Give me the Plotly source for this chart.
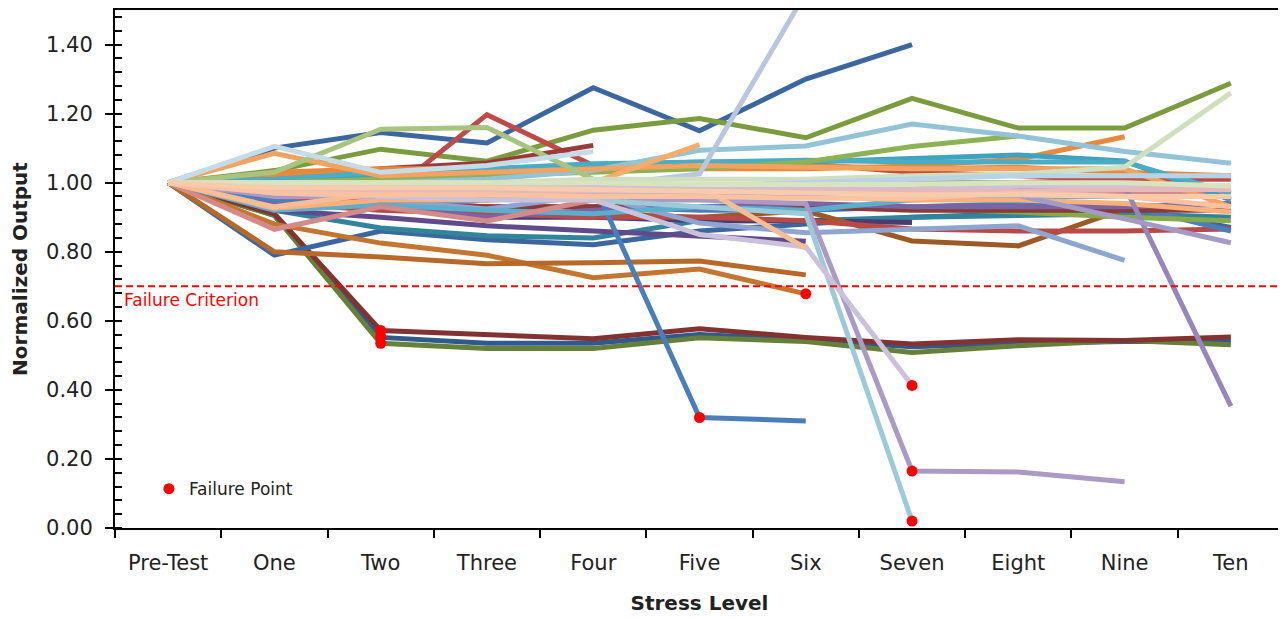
import plotly.graph_objects as go

stress_levels = ["Pre-Test", "One", "Two", "Three", "Four", "Five",
                 "Six", "Seven", "Eight", "Nine", "Ten"]

# ---- series values (normalized output per stress level; None = not tested) ----
blue_hi      = [1.00, 1.10, 1.145, 1.115, 1.275, 1.15, 1.30, 1.40, None, None, None]
blue_dip     = [1.00, 0.79, 0.86, 0.835, 0.82, 0.86, 0.88, 0.90, 0.91, 0.93, 0.87]
green_hi     = [1.00, 1.035, 1.097, 1.062, 1.152, 1.186, 1.13, 1.244, 1.158, 1.158, 1.288]
red_peak     = [1.00, 0.98, 0.95, 1.197, 1.05, 1.045, 1.054, 1.03, 1.02, 1.01, 1.01]
darkred_four = [1.00, 1.01, 1.04, 1.057, 1.108, None, None, None, None, None, None]
lgreen_peak  = [1.00, 1.03, 1.155, 1.16, 1.01, 0.99, 0.99, 1.00, 1.00, 0.99, 0.99]
paleblue_one = [1.00, 1.105, 1.03, 1.05, 1.09, None, None, None, None, None, None]
aqua_hi      = [1.00, 0.99, 1.00, 1.01, 1.035, 1.094, 1.106, 1.17, 1.135, 1.09, 1.056]
orange_hi    = [1.00, 1.085, 1.02, 1.03, 1.04, 1.05, 1.045, 1.04, 1.04, 1.04, 0.93]
blue_fail    = [1.00, 0.95, 0.93, 0.95, 1.00, 0.32, 0.31, None, None, None, None]
navy_low     = [1.00, 0.905, 0.552, 0.535, 0.535, 0.56, 0.545, 0.525, 0.535, 0.54, 0.54]
dkgreen_low  = [1.00, 0.905, 0.535, 0.52, 0.52, 0.551, 0.54, 0.508, 0.528, 0.543, 0.531]
maroon_low   = [1.00, 0.91, 0.572, 0.56, 0.548, 0.577, 0.552, 0.533, 0.545, 0.543, 0.553]
orange_fail  = [1.00, 0.88, 0.825, 0.79, 0.725, 0.75, 0.678, None, None, None, None]
orange_six   = [1.00, 0.80, 0.785, 0.765, 0.768, 0.773, 0.733, None, None, None, None]
teal_low     = [1.00, 0.92, 0.869, 0.846, 0.84, 0.89, 0.89, 0.90, 0.905, 0.91, 0.90]
purple_six   = [1.00, 0.92, 0.90, 0.875, 0.86, 0.846, 0.83, None, None, None, None]
purple_seven = [1.00, 0.95, 0.93, 0.90, 0.90, 0.89, 0.89, 0.885, None, None, None]
lav_fail     = [1.00, 0.96, 0.96, 0.955, 0.95, 0.95, 0.94, 0.165, 0.162, 0.134, None]
pale_lav_fail = [1.00, 0.97, 0.96, 0.95, 0.95, 0.85, 0.814, 0.413, None, None, None]
aqua_fail    = [1.00, 0.99, 0.98, 0.97, 0.95, 0.93, 0.91, 0.02, None, None, None]
lav_ten      = [1.00, 0.97, 0.97, 0.97, 0.96, 0.96, 0.96, 0.97, 0.98, 0.99, 0.353]
lav_ten2     = [1.00, 0.97, 0.96, 0.96, 0.97, 0.97, 0.97, 0.98, 0.963, 0.895, 0.826]
orange_nine  = [1.00, 1.02, 1.03, 1.04, 1.04, 1.04, 1.04, 1.048, 1.068, 1.133, None]
lorange_five = [1.00, 0.97, 0.98, 1.00, 1.00, 1.11, None, None, None, None, None]
steep_up     = [1.00, 0.98, 0.97, 0.98, 0.99, 1.025, 1.55, None, None, None, None]
peach_six    = [1.00, 0.93, 0.97, 0.99, 0.99, 0.99, 0.81, None, None, None, None]
brown_mid    = [1.00, 0.95, 0.93, 0.92, 0.91, 0.90, 0.918, 0.831, 0.817, 0.924, 0.94]
red_low      = [1.00, 0.94, 0.92, 0.91, 0.90, 0.90, 0.89, 0.866, 0.86, 0.86, 0.866]
blue_low     = [1.00, 0.95, 0.94, 0.93, 0.93, 0.92, 0.92, 0.93, 0.94, 0.935, 0.86]
green_low    = [1.00, 0.96, 0.94, 0.93, 0.93, 0.93, 0.93, 0.925, 0.915, 0.90, 0.89]
green_eight  = [1.00, 1.00, 1.01, 1.02, 1.03, 1.04, 1.06, 1.105, 1.135, None, None]
pgreen_ten   = [1.00, 1.00, 1.00, 1.00, 1.01, 1.01, 1.01, 1.02, 1.025, 1.045, 1.26]
teal_band    = [1.00, 1.00, 1.02, 1.03, 1.05, 1.06, 1.06, 1.07, 1.08, 1.063, 0.95]
teal_band2   = [1.00, 1.01, 1.03, 1.04, 1.055, 1.06, 1.065, 1.06, 1.06, 1.06, 0.97]
pink_dip     = [1.00, 0.865, 0.93, 0.889, 0.95, 0.96, 0.96, 0.97, 0.97, 0.97, 0.97]
sky_band     = [1.00, 0.92, 0.935, 0.92, 0.91, 0.93, 0.92, 0.95, 0.96, 0.96, 0.96]
periwinkle   = [1.00, 0.96, 0.95, 0.924, 0.964, 0.883, 0.855, 0.866, 0.875, 0.775, None]
orange_band  = [1.00, 1.03, 1.04, 1.04, 1.05, 1.05, 1.05, 1.04, 1.045, 1.03, 1.02]
purple_band  = [1.00, 0.94, 0.93, 0.90, 0.92, 0.93, 0.94, 0.93, 0.93, 0.93, 0.94]
red_band     = [1.00, 0.96, 0.95, 0.95, 0.96, 0.97, 0.98, 0.99, 1.00, 1.01, 1.02]
dkred_band   = [1.00, 0.95, 0.94, 0.93, 0.93, 0.93, 0.93, 0.92, 0.92, 0.92, 0.92]
blue_band    = [1.00, 0.97, 0.98, 0.99, 1.00, 0.99, 0.99, 1.00, 1.00, 0.99, 0.98]
lorange_band = [1.00, 0.926, 0.95, 0.95, 0.96, 0.96, 0.96, 0.95, 0.95, 0.94, 0.915]
pale_blue    = [1.00, 1.00, 0.99, 0.98, 0.98, 0.99, 1.00, 1.01, 1.02, 1.02, 1.02]
pale_lilac   = [1.00, 0.99, 0.99, 0.99, 0.99, 0.98, 0.98, 0.98, 0.99, 0.99, 0.98]
pale_pink    = [1.00, 0.98, 0.98, 0.975, 0.975, 0.975, 0.975, 0.975, 0.975, 0.98, 0.98]
pale_green   = [1.00, 1.00, 1.00, 1.00, 1.00, 0.995, 0.995, 0.995, 1.00, 1.00, 0.99]
peach_band   = [1.00, 0.985, 0.985, 0.985, 0.98, 0.975, 0.97, 0.965, 0.965, 0.96, 0.96]
peach_band2  = [1.00, 0.97, 0.965, 0.965, 0.96, 0.96, 0.955, 0.955, 0.97, 0.96, 0.93]

# failure points
failure_levels = ["Two", "Two", "Two", "Five", "Six", "Seven", "Seven", "Seven"]
failure_values = [0.572, 0.554, 0.535, 0.32, 0.678, 0.413, 0.165, 0.02]
failure_criterion = 0.70

# ---- drawing order and styles ----
series_values = [
    navy_low, dkgreen_low, maroon_low, blue_hi, blue_dip, green_hi, red_peak,
    darkred_four, orange_fail, orange_six, teal_low, purple_six, purple_seven,
    brown_mid, red_low, blue_low, green_low, dkred_band, purple_band, blue_fail,
    periwinkle, sky_band, pink_dip, red_band, blue_band, orange_band, orange_nine,
    teal_band, teal_band2, green_eight, aqua_hi, orange_hi, lgreen_peak,
    paleblue_one, lorange_five, lorange_band, lav_ten, lav_ten2, lav_fail,
    aqua_fail, pale_lav_fail, steep_up, peach_six, pgreen_ten, pale_blue,
    pale_lilac, pale_pink, peach_band2, pale_green, peach_band,
]
series_colors = [
    "#2F5A8E", "#66803A", "#833232", "#3C679E", "#3C679E", "#7A9C3E", "#BE4B48",
    "#9A3B3A", "#C47530", "#B8692A", "#31849B", "#5F4A8B", "#4B3B70",
    "#9C5B26", "#B84A47", "#4A7EBB", "#86AA4A", "#8B3A38", "#7B64A3", "#4A7EBB",
    "#8EA5D0", "#5BAFCC", "#D48A88", "#C0504D", "#4F81BD", "#E8873A", "#E8893C",
    "#3FA3BD", "#4BACC6", "#8DB255", "#93C3D6", "#F4A25F", "#A9C47F",
    "#C5DCE6", "#F9AB6B", "#F9B07B", "#9787B8", "#A39BC4", "#A99BC6",
    "#9CCAD8", "#CCC1DA", "#B9C6DE", "#F7BD94", "#D0DFBF", "#B7D3E5",
    "#CCC0DA", "#E6B9B8", "#F9C2A0", "#D7E4BD", "#F8CBAD",
]

fig = go.Figure()
for vals, col in zip(series_values, series_colors):
    fig.add_trace(go.Scatter(
        x=stress_levels, y=vals, mode="lines",
        line=dict(color=col, width=5), showlegend=False, hoverinfo="skip",
    ))

fig.add_trace(go.Scatter(
    x=failure_levels, y=failure_values, mode="markers",
    marker=dict(color="#FF0000", size=11), name="Failure Point", showlegend=True,
))

fig.add_shape(type="line", xref="paper", x0=0, x1=1, yref="y",
              y0=failure_criterion, y1=failure_criterion,
              line=dict(color="#FF0000", width=2, dash="7px,4px"))
fig.add_annotation(text="Failure Criterion", xref="paper", x=0.006, xanchor="left",
                   yref="y", y=failure_criterion, yanchor="top", yshift=-2,
                   showarrow=False, font=dict(color="#FF0000", size=17, family="DejaVu Sans"))

font_family = "DejaVu Sans"
# page body adds an 8px offset; the figure is sized so the plot lands where the reference has it
fig.update_layout(
    width=1278, height=611,
    margin=dict(l=107, r=2, t=2, b=91),
    paper_bgcolor="white", plot_bgcolor="white",
    font=dict(family=font_family, color="#222222"),
    showlegend=True,
    legend=dict(x=0.029, y=0.075, xanchor="left", yanchor="middle",
                bgcolor="rgba(0,0,0,0)", font=dict(size=17, family=font_family, color="#222222"),
                itemwidth=30),
    xaxis=dict(
        type="category", categoryorder="array", categoryarray=stress_levels,
        range=[-0.5, 10.5], tickson="boundaries", ticks="outside", ticklen=8,
        tickwidth=2, tickcolor="black", showline=True, linecolor="black", linewidth=2,
        mirror=True, showgrid=False, zeroline=False, automargin=False,
        tickfont=dict(size=21, family=font_family, color="#222222"),
        ticklabelstandoff=15,
        title=dict(text="<b>Stress Level</b>", font=dict(size=20, family=font_family, color="#222222"),
                   standoff=22),
    ),
    yaxis=dict(
        range=[0, 1.5], dtick=0.2, tick0=0, tickformat=".2f",
        ticks="outside", ticklen=8, tickwidth=2, tickcolor="black",
        minor=dict(dtick=0.04, tick0=0, ticks="inside", ticklen=7, tickwidth=2, tickcolor="black"),
        showline=True, linecolor="black", linewidth=2, mirror=True,
        showgrid=False, zeroline=False, automargin=False,
        tickfont=dict(size=21, family=font_family, color="#222222"),
        ticklabelstandoff=8,
        title=dict(text="<b>Normalized Output</b>", font=dict(size=20, family=font_family, color="#222222"),
                   standoff=15),
    ),
)

fig.write_html("out.html")
